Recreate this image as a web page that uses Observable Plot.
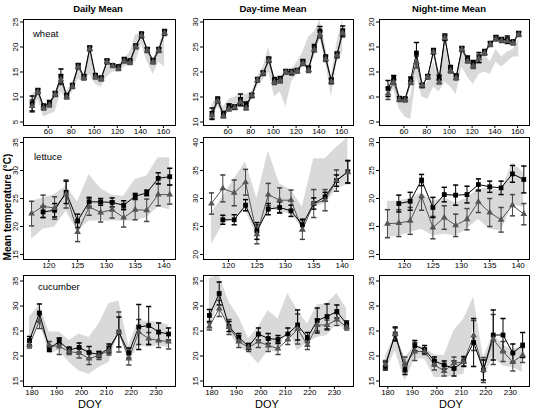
<!DOCTYPE html>
<html><head><meta charset="utf-8">
<script src="https://cdn.jsdelivr.net/npm/d3@7"></script>
<script src="https://cdn.jsdelivr.net/npm/@observablehq/plot@0.6"></script>
<style>
body{margin:0;background:#fff;}
#chart{position:relative;width:539px;height:410px;overflow:hidden;background:#fff;font-family:"Liberation Sans Narrow","Liberation Sans",Arial,sans-serif;color:#000;}
.t{position:absolute;white-space:nowrap;line-height:1;}
</style></head><body><div id="chart"></div>
<script>
// ---- column / row labels
const periods = ["Daily Mean", "Day-time Mean", "Night-time Mean"];
const crops = ["wheat", "lettuce", "cucumber"];
const yLabel = "Mean temperature (°C)";
const xLabel = "DOY";

// ---- x values (DOY)
const wheatDoy = [46,51,56,61,66,71,76,81,86,91,96,101,106,111,116,121,126,131,136,141,146,151,156,161];
const lettuceDoy = [117,119,121,123,125,127,129,131,133,135,137,139,141];
const cucumberDoy = [179,183,187,191,195,199,203,207,211,215,219,223,227,231,235];

// ---- tick labels
const wheatXTicks = [60,80,100,120,140,160];
const lettuceXTicks = [120,125,130,135,140];
const cucumberXTicks = [180,190,200,210,220,230];
const wheatYTicks = [[5,10,15,20,25],[10,15,20,25,30],[0,5,10,15,20]];
const lettuceYTicks = [[15,20,25,30,35],[20,25,30,35,40],[10,15,20,25,30]];
const cucumberYTicks = [[15,20,25,30,35],[15,20,25,30,35],[15,20,25,30,35]];

// ---- wheat
const wheatDailySq  = [8.7,11.3,8.1,8.8,10.7,14.1,10.3,12.3,16.3,14.1,19.8,14.3,13.8,17.2,16.3,16.0,17.5,17.2,20.2,22.5,19.5,17.3,19.5,23.0];
const wheatDailySqErr = [1.5,0.4,0.5,0.5,0.4,1.5,0.4,0.4,0.4,0.4,0.4,0.4,0.4,0.4,0.3,0.4,0.4,0.4,0.4,0.5,0.4,0.4,0.4,0.5];
const wheatDailyTri = [8.2,11.0,7.8,8.4,10.5,13.5,10.0,12.1,16.0,13.8,19.6,14.0,13.6,17.0,16.2,15.7,17.2,16.9,20.0,22.3,19.3,17.0,19.3,22.8];
const wheatDailyTriErr = [1.2,0.4,0.4,0.4,0.4,1.0,0.4,0.4,0.4,0.4,0.4,0.4,0.4,0.4,0.3,0.4,0.4,0.4,0.4,0.5,0.4,0.4,0.4,0.5];
const wheatDailyLo = [7.0,9.5,6.0,6.5,7.0,11.0,9.5,11.0,13.5,13.0,14.5,12.5,12.0,14.0,15.0,15.0,16.0,16.5,17.0,20.5,17.0,14.5,17.0,16.0];
const wheatDailyHi = [10.5,11.5,8.5,8.5,10.5,13.5,11.0,13.0,16.0,14.5,19.5,14.0,13.5,17.0,16.5,16.5,17.5,19.0,22.5,22.5,19.5,17.5,20.0,23.5];

const wheatDaySq  = [11.7,14.5,11.6,13.2,13.0,14.5,13.5,15.3,18.5,19.8,22.5,18.4,18.6,20.1,20.0,20.3,22.0,20.7,24.9,28.2,22.9,18.3,23.5,28.2];
const wheatDaySqErr = [1.1,0.5,0.5,0.4,0.4,1.1,0.5,0.4,0.4,0.4,0.5,0.5,0.5,0.4,0.5,0.4,0.5,0.5,0.6,0.9,0.5,0.5,0.5,1.0];
const wheatDayTri = [11.3,14.2,11.2,12.6,12.9,14.0,12.8,15.3,18.4,19.7,22.3,18.0,18.3,20.0,19.9,20.2,21.7,20.4,24.5,27.5,22.6,18.1,23.3,27.8];
const wheatDayTriErr = [0.8,0.4,0.4,0.4,0.4,0.8,0.4,0.4,0.4,0.4,0.4,0.5,0.5,0.4,0.5,0.4,0.4,0.5,0.5,0.7,0.5,0.5,0.5,0.8];
const wheatDayLo = [11.0,13.0,11.5,12.5,13.5,14.0,13.0,14.5,17.0,18.5,20.0,15.0,16.0,13.0,18.0,19.5,21.0,21.0,23.0,27.0,22.0,15.0,22.0,24.0];
const wheatDayHi = [13.5,15.0,13.0,14.5,15.0,15.5,15.5,16.0,19.0,21.0,25.0,18.5,19.0,20.0,20.5,22.0,24.0,27.0,28.0,30.5,25.0,19.0,26.0,30.5];

const wheatNightSq  = [6.7,8.9,4.7,4.6,8.5,13.8,7.3,9.1,14.2,8.9,17.0,10.7,9.1,14.7,12.7,11.7,12.9,14.0,15.7,16.9,16.5,16.5,16.0,17.7];
const wheatNightSqErr = [1.6,0.4,0.4,0.4,0.5,2.1,0.4,0.4,0.5,0.5,0.6,0.6,0.5,0.4,0.5,0.6,1.0,0.5,0.4,0.4,0.4,0.7,0.4,0.4];
const wheatNightTri = [5.7,7.9,4.5,4.4,7.9,12.0,7.3,9.0,14.0,8.0,16.8,10.3,8.8,14.5,12.2,11.2,12.7,13.8,15.5,16.6,16.3,16.2,15.8,17.5];
const wheatNightTriErr = [1.2,0.4,0.4,0.4,0.4,1.2,0.4,0.4,0.4,0.4,0.5,0.5,0.4,0.4,0.4,0.5,0.8,0.4,0.4,0.4,0.4,0.5,0.4,0.4];
const wheatNightLo = [5.0,6.5,2.5,1.0,0.5,9.0,5.0,4.5,7.0,6.0,8.0,7.0,5.5,11.0,9.0,7.5,9.5,10.0,9.5,12.0,11.0,12.0,13.0,13.0];
const wheatNightHi = [7.5,8.0,4.5,4.0,5.0,12.5,7.0,8.0,12.0,8.5,16.0,10.0,8.5,14.5,12.5,11.0,12.5,13.5,12.0,14.5,13.0,14.0,14.5,16.5];

// ---- lettuce
const lettuceDailySq  = [null,22.6,22.9,26.1,21.0,24.4,24.4,24.3,23.8,25.4,26.0,28.6,28.9];
const lettuceDailySqErr = [0,1.0,1.2,2.0,1.2,0.8,0.6,0.8,0.8,0.5,0.5,1.0,1.5];
const lettuceDailyTri = [22.3,23.6,23.3,25.8,19.0,23.5,22.5,23.0,21.6,23.0,22.9,25.7,25.7];
const lettuceDailyTriErr = [2.2,2.0,2.0,2.5,1.7,1.5,1.7,1.5,1.7,1.8,2.0,2.0,1.7];
const lettuceDailyLo = [17.7,19.5,19.9,22.7,19.2,21.0,21.0,21.0,21.0,21.0,21.6,23.5,23.0];
const lettuceDailyHi = [24.5,25.1,25.7,27.2,24.4,29.3,26.8,25.6,25.4,28.4,29.0,32.3,32.3];

const lettuceDaySq  = [null,26.2,26.2,28.8,24.2,28.1,28.4,27.8,25.3,29.1,30.3,33.2,34.8];
const lettuceDaySqErr = [0,0.8,0.9,1.0,1.5,1.0,1.0,1.0,1.0,1.0,0.8,1.0,2.0];
const lettuceDayTri = [29.1,31.8,31.0,32.9,23.6,30.7,29.7,29.7,24.4,29.1,29.7,33.2,34.7];
const lettuceDayTriErr = [1.9,2.4,2.3,2.3,1.7,2.0,2.2,1.8,1.7,2.5,1.9,1.9,2.0];
const lettuceDayLo = [21.8,25.3,26.5,27.9,23.2,28.2,27.7,27.2,24.7,28.5,29.1,31.5,32.6];
const lettuceDayHi = [27.4,30.3,33.5,36.5,30.0,38.5,32.6,31.5,28.5,37.1,37.1,39.1,40.9];

const lettuceNightSq  = [null,19.1,19.5,23.3,18.4,20.7,20.6,20.7,22.5,22.1,21.9,24.4,23.4];
const lettuceNightSqErr = [0,1.5,1.6,1.0,1.8,1.3,1.8,1.5,1.0,1.0,1.2,1.5,2.4];
const lettuceNightTri = [15.5,15.6,16.0,20.4,14.8,16.6,15.2,16.3,19.4,17.5,16.2,18.8,17.2];
const lettuceNightTriErr = [2.5,2.4,2.4,2.5,2.0,2.1,2.0,1.9,1.9,2.5,2.2,1.9,1.9];
const lettuceNightLo = [13.0,13.3,13.9,14.5,13.3,13.6,13.3,14.5,16.3,14.5,14.2,18.9,18.4];
const lettuceNightHi = [19.5,19.5,20.1,21.0,19.5,20.1,19.2,20.1,21.6,21.9,21.3,26.4,24.6];

// ---- cucumber
const cucumberDailySq  = [23.1,28.6,21.5,22.9,21.2,21.7,20.7,20.3,21.5,24.8,20.6,25.8,26.1,24.8,24.4];
const cucumberDailySqErr = [0.8,1.8,0.6,0.7,0.6,0.9,1.2,0.6,0.9,3.0,1.0,4.5,3.8,1.8,1.2];
const cucumberDailyTri = [22.2,27.0,22.1,21.9,20.9,20.6,19.5,20.1,21.1,24.8,19.5,24.8,23.5,23.1,22.9];
const cucumberDailyTriErr = [0.6,1.5,0.8,1.6,0.6,1.0,1.2,0.8,0.9,4.0,1.3,2.5,1.2,1.4,1.5];
const cucumberDailyLo = [21.7,26.8,20.4,21.1,18.7,17.0,16.3,17.7,18.7,24.8,18.7,22.1,21.7,22.1,21.7];
const cucumberDailyHi = [27.8,30.2,24.8,24.8,23.1,24.4,23.7,26.4,30.5,31.0,22.1,27.1,26.9,26.8,26.1];

const cucumberDaySq  = [28.1,32.5,25.9,23.7,21.9,24.4,23.5,23.3,24.4,26.2,23.7,27.1,27.9,28.9,26.4];
const cucumberDaySqErr = [1.2,2.3,1.0,0.8,0.6,1.2,1.0,0.8,1.2,3.0,1.0,2.5,2.5,1.3,0.6];
const cucumberDayTri = [25.9,29.5,25.8,22.9,21.7,22.9,22.1,21.5,23.3,25.4,22.2,26.2,26.2,27.3,25.8];
const cucumberDayTriErr = [0.7,1.6,1.5,1.2,0.8,1.2,1.2,1.2,1.0,3.0,0.9,1.2,1.0,1.2,0.6];
const cucumberDayLo = [25.4,30.8,24.8,21.7,20.7,18.4,21.1,20.7,25.4,21.1,22.7,23.7,24.1,26.4,25.1];
const cucumberDayHi = [35.5,36.2,30.8,27.8,23.4,25.8,29.1,27.4,32.5,29.1,26.4,30.2,30.5,32.5,29.5];

const cucumberNightSq  = [18.0,24.4,17.3,22.1,21.3,19.0,18.2,17.5,18.9,22.7,17.2,24.2,24.2,20.6,22.2];
const cucumberNightSqErr = [0.8,1.4,1.0,1.0,0.8,0.8,0.8,1.5,1.0,4.8,2.0,5.0,3.3,1.8,2.5];
const cucumberNightTri = [18.3,24.4,18.3,20.9,20.9,18.2,17.0,18.6,18.8,24.1,17.2,23.3,20.9,18.8,20.2];
const cucumberNightTriErr = [0.8,1.2,1.5,1.8,0.6,1.0,1.0,1.2,0.8,3.0,2.5,5.0,2.0,1.8,1.5];
const cucumberNightLo = [16.7,21.0,15.0,19.4,19.4,15.7,15.7,16.0,16.3,25.9,15.7,19.7,18.0,17.7,16.7];
const cucumberNightHi = [20.1,24.0,19.7,22.1,21.7,20.2,20.1,25.1,27.4,31.8,19.7,24.4,22.1,21.4,21.7];

// ---- layout
const chart = document.getElementById("chart");
const FONT = '"Liberation Sans Narrow","Liberation Sans",Arial,sans-serif';
const colFrames = [[23,175],[203,353],[379,529]];
const rowFrames = [[19,125],[137,259],[275,386]];
const xDomains = [[38.5,170.5],[115.6,142],[176.6,237.8]];
const yDomains = [
  [[4.3,25.5],[9.3,30.5],[-0.7,20.5]],
  [[14.1,35.9],[19.1,40.9],[9.1,30.9]],
  [[13.9,36.1],[13.9,36.1],[13.9,36.1]]
];
const xTicksByRow = [wheatXTicks, lettuceXTicks, cucumberXTicks];
const yTicksByRow = [wheatYTicks, lettuceYTicks, cucumberYTicks];
const doyByRow = [wheatDoy, lettuceDoy, cucumberDoy];
const series = [
  [
    [wheatDailySq,wheatDailySqErr,wheatDailyTri,wheatDailyTriErr,wheatDailyLo,wheatDailyHi],
    [wheatDaySq,wheatDaySqErr,wheatDayTri,wheatDayTriErr,wheatDayLo,wheatDayHi],
    [wheatNightSq,wheatNightSqErr,wheatNightTri,wheatNightTriErr,wheatNightLo,wheatNightHi]
  ],
  [
    [lettuceDailySq,lettuceDailySqErr,lettuceDailyTri,lettuceDailyTriErr,lettuceDailyLo,lettuceDailyHi],
    [lettuceDaySq,lettuceDaySqErr,lettuceDayTri,lettuceDayTriErr,lettuceDayLo,lettuceDayHi],
    [lettuceNightSq,lettuceNightSqErr,lettuceNightTri,lettuceNightTriErr,lettuceNightLo,lettuceNightHi]
  ],
  [
    [cucumberDailySq,cucumberDailySqErr,cucumberDailyTri,cucumberDailyTriErr,cucumberDailyLo,cucumberDailyHi],
    [cucumberDaySq,cucumberDaySqErr,cucumberDayTri,cucumberDayTriErr,cucumberDayLo,cucumberDayHi],
    [cucumberNightSq,cucumberNightSqErr,cucumberNightTri,cucumberNightTriErr,cucumberNightLo,cucumberNightHi]
  ]
];

const cap = {draw(ctx, size) { const w = Math.sqrt(size / Math.PI); ctx.moveTo(-w, 0); ctx.lineTo(w, 0); }};
const TRI = "#555";

function addText(txt, css) {
  const d = document.createElement("div");
  d.className = "t";
  d.textContent = txt;
  Object.assign(d.style, css);
  chart.appendChild(d);
  return d;
}

for (let r = 0; r < 3; r++) {
  for (let c = 0; c < 3; c++) {
    const [fx0, fx1] = colFrames[c], [fy0, fy1] = rowFrames[r];
    const mL = 22, mR = 2, mT = 2, mB = 12;
    const [sq, se, tri, te, lo, hi] = series[r][c];
    const rows = doyByRow[r].map((d, i) => ({doy: d, sq: sq[i], se: se[i], tri: tri[i], te: te[i], lo: lo[i], hi: hi[i]}));
    const sqRows = rows.filter(d => d.sq != null);
    const yt = yTicksByRow[r][c];
    const plot = Plot.plot({
      width: fx1 - fx0 + mL + mR,
      height: fy1 - fy0 + mT + mB,
      marginLeft: mL, marginRight: mR, marginTop: mT, marginBottom: mB,
      x: {domain: xDomains[r]},
      y: {domain: yDomains[r][c]},
      style: {fontFamily: FONT, fontSize: "8px", background: "transparent", overflow: "visible", color: "black"},
      marks: [
        Plot.areaY(rows, {x: "doy", y1: "lo", y2: "hi", fill: "#d9d9d9", clip: true}),
        Plot.ruleX(rows, {x: "doy", y1: d => d.tri - d.te, y2: d => d.tri + d.te, stroke: "#444", strokeWidth: 1}),
        Plot.dot(rows, {x: "doy", y: d => d.tri - d.te, symbol: cap, r: 2.6, stroke: "#444", fill: "none"}),
        Plot.dot(rows, {x: "doy", y: d => d.tri + d.te, symbol: cap, r: 2.6, stroke: "#444", fill: "none"}),
        Plot.ruleX(sqRows, {x: "doy", y1: d => d.sq - d.se, y2: d => d.sq + d.se, stroke: "black", strokeWidth: 1}),
        Plot.dot(sqRows, {x: "doy", y: d => d.sq - d.se, symbol: cap, r: 2.6, stroke: "black", fill: "none"}),
        Plot.dot(sqRows, {x: "doy", y: d => d.sq + d.se, symbol: cap, r: 2.6, stroke: "black", fill: "none"}),
        Plot.line(rows, {x: "doy", y: "tri", stroke: TRI, strokeWidth: 1}),
        Plot.line(sqRows, {x: "doy", y: "sq", stroke: "black", strokeWidth: 1}),
        Plot.dot(sqRows, {x: "doy", y: "sq", symbol: "square", r: 2.7, fill: "black", stroke: "none"}),
        Plot.dot(rows, {x: "doy", y: "tri", symbol: "triangle", r: 2.5, fill: TRI, stroke: "none"}),
        Plot.frame({stroke: "black", strokeWidth: 1}),
        Plot.axisX({ticks: xTicksByRow[r], tickSize: 3, tickPadding: 0, label: null}),
        Plot.axisY({ticks: yt, tickSize: 3, tickFormat: () => "", label: null}),
        Plot.text(yt, {y: d => d, text: d => String(d), frameAnchor: "left", dx: -8, rotate: -90, textAnchor: "middle", lineAnchor: "middle"})
      ]
    });
    plot.style.position = "absolute";
    plot.style.left = (fx0 - mL) + "px";
    plot.style.top = (fy0 - mT) + "px";
    chart.appendChild(plot);
  }
}

// column titles
const titleCenters = [98, 273, 449];
periods.forEach((p, i) => addText(p, {left: titleCenters[i] + "px", top: "4px", transform: "translateX(-50%)", fontWeight: "bold", fontSize: "9.5px"}));
// crop labels
const cropPos = [[33, 29], [34, 152], [38, 282]];
crops.forEach((cName, i) => addText(cName, {left: cropPos[i][0] + "px", top: cropPos[i][1] + "px", fontSize: "9.5px", fontFamily: '"Liberation Sans",Arial,sans-serif'}));
// x labels
const doyCenters = [90, 267, 451];
doyCenters.forEach(cx => addText(xLabel, {left: cx + "px", top: "399px", transform: "translateX(-50%)", fontSize: "11px", fontFamily: '"Liberation Sans",Arial,sans-serif'}));
// y label
addText(yLabel, {left: "8px", top: "207px", transform: "translate(-50%,-50%) rotate(-90deg)", fontWeight: "bold", fontSize: "10px"});
</script></body></html>
